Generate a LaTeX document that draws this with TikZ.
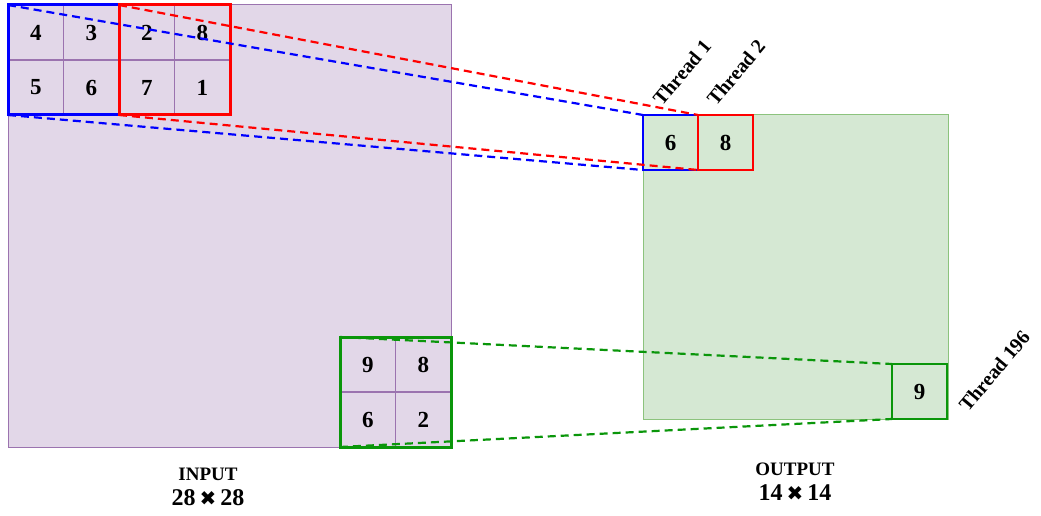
\documentclass[tikz,border=0pt]{standalone}
\usepackage{fontspec}
\setmainfont{Liberation Serif}
\newfontfamily\symfont{DejaVu Sans}
\definecolor{inbg}{RGB}{226,215,232}
\definecolor{inedge}{RGB}{155,115,175}
\definecolor{outbg}{RGB}{213,232,211}
\definecolor{outedge}{RGB}{140,195,125}
\definecolor{kblue}{RGB}{0,0,255}
\definecolor{kred}{RGB}{255,0,0}
\definecolor{kgreen}{RGB}{10,150,10}
\begin{document}
\begin{tikzpicture}[x=1pt,y=-1pt,
  plane/.style={anchor=north west,inner sep=0,outer sep=0},
  cell/.style={draw=inedge,line width=1.3pt,minimum width=55.5pt,minimum height=55pt,
    inner sep=0,outer sep=0,font=\bfseries\fontsize{23}{23}\selectfont},
  window/.style={anchor=north west,inner sep=0,outer sep=0,line width=3pt,
    minimum width=111pt,minimum height=110pt},
  outcell/.style={anchor=north west,inner sep=0,outer sep=0,line width=2.4pt,
    minimum width=55pt,minimum height=55pt,font=\bfseries\fontsize{23}{23}\selectfont},
  link/.style={dashed,dash pattern=on 8pt off 5pt,line width=2.2pt},
  thread/.style={rotate=50,anchor=base west,inner sep=0,font=\bfseries\fontsize{20}{20}\selectfont},
  caption/.style={font=\bfseries\fontsize{19}{19}\selectfont},
  size/.style={font=\bfseries\fontsize{24}{24}\selectfont}]
\useasboundingbox (0,0) rectangle (1041,516);

% input plane
\node[plane,fill=inbg,draw=inedge,line width=1pt,minimum width=443pt,minimum height=442pt] (input) at (8,5) {};
% top-left cells
\node[cell] (c11) at (35.75,32.5) {4};
\node[cell] (c12) at (91.25,32.5) {3};
\node[cell] (c13) at (146.75,32.5) {2};
\node[cell] (c14) at (202.25,32.5) {8};
\node[cell] (c21) at (35.75,87.5) {5};
\node[cell] (c22) at (91.25,87.5) {6};
\node[cell] (c23) at (146.75,87.5) {7};
\node[cell] (c24) at (202.25,87.5) {1};
% bottom-right cells
\node[cell] (d11) at (367.75,364.5) {9};
\node[cell] (d12) at (423.25,364.5) {8};
\node[cell] (d21) at (367.75,419.5) {6};
\node[cell] (d22) at (423.25,419.5) {2};
% pooling windows
\node[window,draw=kblue] (wblue) at (8,5) {};
\node[window,draw=kred] (wred) at (119,5) {};
\node[window,draw=kgreen] (wgreen) at (340,337) {};

% output plane
\node[plane,fill=outbg,draw=outedge,line width=1pt,minimum width=305pt,minimum height=304pt] (output) at (643,115) {};
\node[outcell,draw=kblue] (oblue) at (643,115) {6};
\node[outcell,draw=kred] (ored) at (698,115) {8};
\node[outcell,draw=kgreen] (ogreen) at (892,364) {9};

% thread labels
\node[thread] (t1) at (662,107) {Thread 1};
\node[thread] (t2) at (716,107) {Thread 2};
\node[thread] (t196) at (968,413) {Thread 196};

% mapping lines
\draw[link,kblue] (wblue.north west) -- (oblue.north west);
\draw[link,kblue] (wblue.south west) -- (oblue.south west);
\draw[link,kred] (wred.north west) -- (ored.north west);
\draw[link,kred] (wred.south west) -- (ored.south west);
\draw[link,kgreen] (wgreen.north west) -- (ogreen.north west);
\draw[link,kgreen] (wgreen.south west) -- (ogreen.south west);

% captions
\node[caption] (incap) at (208,474) {INPUT};
\node[size] (insize) at (208,498) {28\,{\symfont\fontsize{20}{20}\selectfont ✖}\,28};
\node[caption] (outcap) at (795,469) {OUTPUT};
\node[size] (outsize) at (795,493) {14\,{\symfont\fontsize{20}{20}\selectfont ✖}\,14};
\end{tikzpicture}
\end{document}
